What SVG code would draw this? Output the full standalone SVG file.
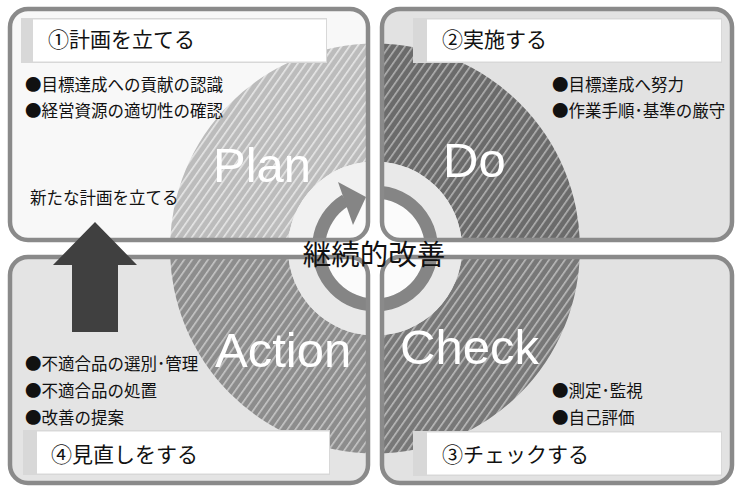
<svg xmlns="http://www.w3.org/2000/svg" width="737" height="491" viewBox="0 0 737 491">
<style>
.box{stroke:#8a8a8a;stroke-width:4.5;fill:none}
.jp{font-family:"Noto Sans CJK JP","Noto Sans",sans-serif;fill:#111}
.hd{font-size:21px}
.bl{font-size:16.5px}
.big{font-family:"Liberation Sans",Arial,sans-serif;font-size:49px;fill:#fff}
.strip{fill:#d8d8d8}
.hbody{fill:#fff}
</style>
<defs>
<pattern id="hPlan" width="6.5" height="10" patternUnits="userSpaceOnUse" patternTransform="rotate(35)"><rect width="6.5" height="10" fill="#bcbcbc"/><rect width="1.6" height="10" fill="#e6e6e6"/></pattern>
<pattern id="hDo" width="6.5" height="10" patternUnits="userSpaceOnUse" patternTransform="rotate(35)"><rect width="6.5" height="10" fill="#6b6b6b"/><rect width="1.6" height="10" fill="#b0b0b0"/></pattern>
<pattern id="hCheck" width="6.5" height="10" patternUnits="userSpaceOnUse" patternTransform="rotate(35)"><rect width="6.5" height="10" fill="#787878"/><rect width="1.6" height="10" fill="#bababa"/></pattern>
<pattern id="hAction" width="6.5" height="10" patternUnits="userSpaceOnUse" patternTransform="rotate(35)"><rect width="6.5" height="10" fill="#8d8d8d"/><rect width="1.6" height="10" fill="#c6c6c6"/></pattern>
<clipPath id="boxes">
<rect x="10" y="9" width="358" height="231" rx="18"/>
<rect x="382" y="9" width="350" height="231" rx="18"/>
<rect x="10" y="257" width="358" height="226" rx="18"/>
<rect x="382" y="257" width="350" height="226" rx="18"/>
</clipPath>
</defs>
<rect width="737" height="491" fill="#fff"/>
<g id="fills">
<rect x="10" y="9" width="358" height="231" rx="18" fill="#f8f8f8"/>
<rect x="382" y="9" width="350" height="231" rx="18" fill="#e2e2e2"/>
<rect x="10" y="257" width="358" height="226" rx="18" fill="#e4e4e4"/>
<rect x="382" y="257" width="350" height="226" rx="18" fill="#e2e2e2"/>
</g>
<g id="cycle" clip-path="url(#boxes)">
<path d="M170,248.5 A205,205 0 0 1 375,43.5 L375,161.5 A87,87 0 0 0 288,248.5 Z" fill="url(#hPlan)"/>
<path d="M375,43.5 A205,205 0 0 1 580,248.5 L462,248.5 A87,87 0 0 0 375,161.5 Z" fill="url(#hDo)"/>
<path d="M580,248.5 A205,205 0 0 1 375,453.5 L375,335.5 A87,87 0 0 0 462,248.5 Z" fill="url(#hCheck)"/>
<path d="M375,453.5 A205,205 0 0 1 170,248.5 L288,248.5 A87,87 0 0 0 375,335.5 Z" fill="url(#hAction)"/>
<circle cx="375" cy="248.5" r="87" fill="#e9e9e9"/>
<path d="M375,248.5 L288,248.5 A87,87 0 0 1 375,161.5 Z" fill="#f1f1f1"/>
<circle cx="375" cy="248.5" r="50" fill="#fbfbfb"/>
</g>
<g id="connectors" clip-path="url(#boxes)">
<path d="M375,192 A56.5,56.5 0 1 1 345.5,200.3" fill="none" stroke="#858585" stroke-width="13"/>
<polygon points="338,182 366,197 353,225" fill="#858585"/>
</g>
<g id="plan">
<rect class="box" x="10" y="9" width="358" height="231" rx="18"/>
<rect class="strip" x="21" y="18" width="306" height="45"/>
<rect class="hbody" x="33" y="19.5" width="293" height="42"/>
<text class="jp hd" x="48" y="46.5">①計画を立てる</text>
<text class="jp bl" x="25" y="91">●目標達成への貢献の認識</text>
<text class="jp bl" x="25" y="117">●経営資源の適切性の確認</text>
<text class="jp bl" x="30" y="204">新たな計画を立てる</text>
<text class="big" x="213" y="182">Plan</text>
</g>
<g id="do">
<rect class="box" x="382" y="9" width="350" height="231" rx="18"/>
<rect class="strip" x="413" y="18" width="309" height="45"/>
<rect class="hbody" x="427" y="19.5" width="294" height="42"/>
<text class="jp hd" x="442" y="46.5">②実施する</text>
<text class="jp bl" x="552" y="91">●目標達成へ努力</text>
<text class="jp bl" x="552" y="117">●作業手順･基準の厳守</text>
<text class="big" x="443" y="177">Do</text>
</g>
<g id="check">
<rect class="box" x="382" y="257" width="350" height="226" rx="18"/>
<rect class="strip" x="413" y="431" width="309" height="45"/>
<rect class="hbody" x="427" y="432.5" width="294" height="42"/>
<text class="jp hd" x="442" y="461.5">③チェックする</text>
<text class="jp bl" x="552" y="397">●測定･監視</text>
<text class="jp bl" x="552" y="424">●自己評価</text>
<text class="big" x="400" y="364">Check</text>
</g>
<g id="action">
<rect class="box" x="10" y="257" width="358" height="226" rx="18"/>
<rect class="strip" x="23" y="430" width="307" height="45"/>
<rect class="hbody" x="37" y="431.5" width="292" height="42"/>
<text class="jp hd" x="51" y="461.5">④見直しをする</text>
<text class="jp bl" x="25" y="370">●不適合品の選別･管理</text>
<text class="jp bl" x="25" y="397">●不適合品の処置</text>
<text class="jp bl" x="25" y="424">●改善の提案</text>
<text class="big" x="215" y="367">Action</text>
</g>
<g id="center">
<text class="jp" x="374" y="265" font-size="28.5" text-anchor="middle">継続的改善</text>
</g>
<g id="replan-arrow">
<polygon points="95,222 137,265 118,265 118,332 72,332 72,265 53,265" fill="#404040"/>
</g>
</svg>
